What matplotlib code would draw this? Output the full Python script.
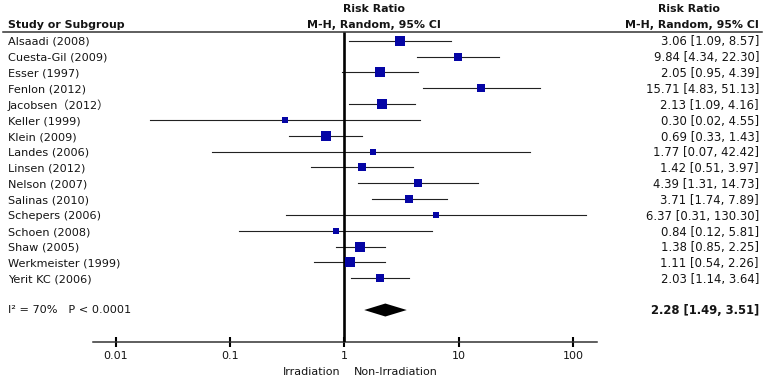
import numpy as np
import matplotlib.pyplot as plt
from matplotlib.transforms import blended_transform_factory
from matplotlib.lines import Line2D

# Datos del forest plot
estudios = ['Alsaadi (2008)', 'Cuesta-Gil (2009)', 'Esser (1997)', 'Fenlon (2012)',
            'Jacobsen\uff082012\uff09', 'Keller (1999)', 'Klein (2009)', 'Landes (2006)',
            'Linsen (2012)', 'Nelson (2007)', 'Salinas (2010)', 'Schepers (2006)',
            'Schoen (2008)', 'Shaw (2005)', 'Werkmeister (1999)', 'Yerit KC (2006)']
rr = [3.06, 9.84, 2.05, 15.71, 2.13, 0.30, 0.69, 1.77, 1.42, 4.39, 3.71, 6.37, 0.84, 1.38, 1.11, 2.03]
ic_inf = [1.09, 4.34, 0.95, 4.83, 1.09, 0.02, 0.33, 0.07, 0.51, 1.31, 1.74, 0.31, 0.12, 0.85, 0.54, 1.14]
ic_sup = [8.57, 22.30, 4.39, 51.13, 4.16, 4.55, 1.43, 42.42, 3.97, 14.73, 7.89, 130.30, 5.81, 2.25, 2.26, 3.64]
# pesos estimados (%) a partir del tamaño de los cuadrados
pesos = [7.3, 6.4, 7.3, 6.4, 7.3, 3.8, 7.3, 3.8, 6.4, 6.4, 6.4, 3.8, 3.8, 8.5, 8.5, 6.4]

total = (2.28, 1.49, 3.51)
heterogeneidad = 'I\u00b2 = 70%   P < 0.0001'
ticks = [0.01, 0.1, 1, 10, 100]
tick_labels = ['0.01', '0.1', '1', '10', '100']

plt.rcParams['font.family'] = ['DejaVu Sans', 'Noto Sans CJK SC']
color_txt = '#141414'

fig = plt.figure(figsize=(7.65, 3.79), dpi=100)
W, H = 765, 379
# eje principal: x logaritmico, y = indice de fila
ax = fig.add_axes([93 / W, (H - 341.7) / H, 504 / W, 340.6 / H])
ax.set_xscale('log')
ax.set_xlim(10 ** -2.2, 10 ** 2.21)
ax.set_ylim(19, -2.5)

for s in ['top', 'left', 'right']:
    ax.spines[s].set_visible(False)
ax.spines['bottom'].set_color('#333333')
ax.spines['bottom'].set_linewidth(1.1)
ax.set_yticks([])
ax.set_xticks(ticks)
ax.set_xticklabels(tick_labels)
ax.minorticks_off()
ax.tick_params(axis='x', direction='inout', length=6.5, width=1.5, color='black',
               labelsize=8, labelcolor=color_txt, pad=3.5)

# linea de no efecto
ax.plot([1, 1], [-0.53, 19], color='black', lw=1.9, solid_capstyle='butt', zorder=3)

filas = np.arange(len(estudios))
for i in filas:
    ax.plot([ic_inf[i], ic_sup[i]], [i, i], color='#222222', lw=0.8, zorder=2)
    lado = 10 * np.sqrt(pesos[i] / 8.5)
    ax.plot(rr[i], i, marker='s', markersize=lado * 0.72, color='#0505a5',
            markeredgewidth=0, zorder=4)

# diamante del efecto global
fila_total = 17
est, lo, hi = total
ax.fill([lo, est, hi, est], [fila_total, fila_total - 0.41, fila_total, fila_total + 0.41],
        color='black', zorder=4, lw=0)

# textos
tr = blended_transform_factory(fig.transFigure, ax.transData)
for i in filas:
    ax.text(8 / W, i + 0.08, estudios[i], transform=tr, ha='left', va='center',
            fontsize=8.1, color=color_txt)
    ax.text(759 / W, i + 0.08, f'{rr[i]:.2f} [{ic_inf[i]:.2f}, {ic_sup[i]:.2f}]',
            transform=tr, ha='right', va='center', fontsize=8.4, color=color_txt)

ax.text(8 / W, fila_total, heterogeneidad, transform=tr, ha='left', va='center',
        fontsize=8.1, color=color_txt)
ax.text(759 / W, fila_total, f'{est:.2f} [{lo:.2f}, {hi:.2f}]', transform=tr,
        ha='right', va='center', fontsize=8.4, fontweight='bold', color=color_txt)

# encabezados
kw = dict(transform=tr, fontsize=7.9, fontweight='bold', color=color_txt, va='center')
ax.text(8 / W, -1.0, 'Study or Subgroup', ha='left', **kw)
ax.text(374 / W, -2.0, 'Risk Ratio', ha='center', **kw)
ax.text(374 / W, -1.0, 'M-H, Random, 95% CI', ha='center', **kw)
ax.text(689 / W, -2.0, 'Risk Ratio', ha='center', **kw)
ax.text(759 / W, -1.0, 'M-H, Random, 95% CI', ha='right', **kw)

linea = Line2D([3 / W, 762 / W], [-0.53, -0.53], transform=tr, color='#333333', lw=1.1)
ax.add_line(linea)
linea.set_clip_on(False)

# etiquetas de direccion
ax.annotate('Irradiation', xy=(1, 19), xytext=(-4, -30), textcoords='offset pixels',
            ha='right', va='center', fontsize=8, color=color_txt, annotation_clip=False)
ax.annotate('Non-Irradiation', xy=(1, 19), xytext=(9, -30), textcoords='offset pixels',
            ha='left', va='center', fontsize=8, color=color_txt, annotation_clip=False)

fig.savefig('out.png', dpi=100)
